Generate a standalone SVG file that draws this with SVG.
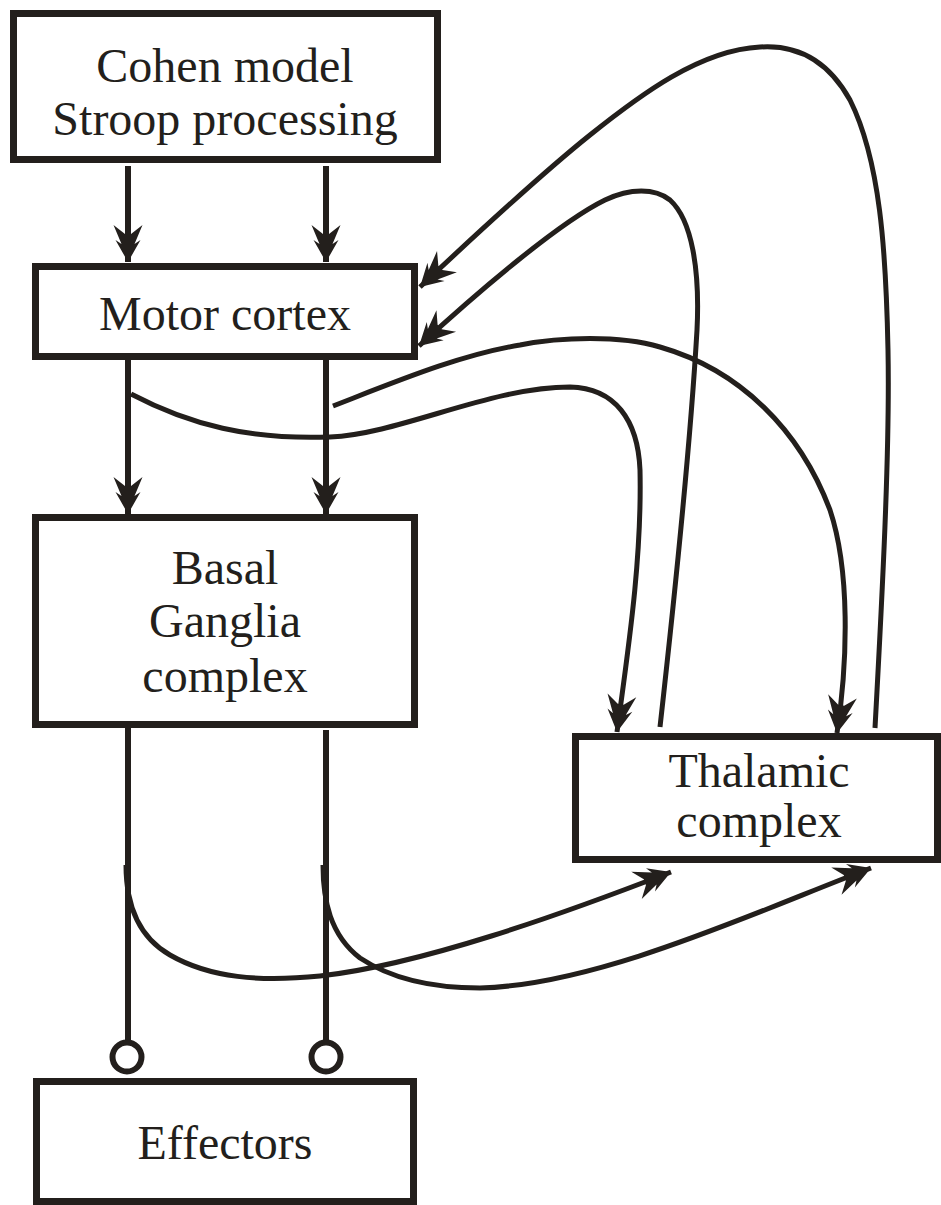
<svg xmlns="http://www.w3.org/2000/svg" width="941" height="1205" viewBox="0 0 941 1205">
<style>
.box{fill:#fff;stroke:#231f1c;stroke-width:7}
.lbl{font-family:"Liberation Serif","Times New Roman",serif;font-size:48px;fill:#231f1c;text-anchor:middle}
.v{fill:none;stroke:#231f1c;stroke-width:6}
.c{fill:none;stroke:#231f1c;stroke-width:5}
.arr{marker-end:url(#ah)}
.dot{fill:#fff;stroke:#231f1c;stroke-width:6}
</style>
<defs>
<marker id="ah" markerUnits="userSpaceOnUse" orient="auto" refX="0" refY="0" markerWidth="40" markerHeight="30" overflow="visible">
<path d="M0,0 L-22,-12.5 L-18,-6.5 L-37,-14.5 L-28,-3 L-28,3 L-37,14.5 L-18,6.5 L-22,12.5 Z" fill="#231f1c"/>
</marker>
</defs>
<g id="connectors">
<path class="v arr" d="M128,166 V262"/>
<path class="v arr" d="M326,166 V262"/>
<path class="v arr" d="M128,360 V514"/>
<path class="v arr" d="M326,360 V514"/>
<path class="v" d="M128,728 V1040"/>
<path class="v" d="M326,730 V1040"/>
<circle class="dot" cx="127" cy="1057" r="14.5"/>
<circle class="dot" cx="326" cy="1057" r="14.5"/>
<path class="c arr" d="M131,394 C190,425 250,440 330,437 C400,434 490,387 570,387 C615,388 638,420 640,470 C642,560 628,650 617,732"/>
<path class="c arr" d="M333,406 C400,380 460,355 520,345 C560,337 620,335 660,347 C740,370 800,430 830,510 C850,570 848,660 837,733"/>
<path class="c arr" d="M660,727 C672,620 690,450 697,330 C700,270 692,220 670,200 C655,188 630,188 605,200 C560,222 480,290 419,346"/>
<path class="c arr" d="M875,728 C882,600 890,450 888,350 C886,250 880,160 850,100 C825,55 790,45 760,47 C700,50 640,95 590,135 C540,175 470,240 420,287"/>
<path class="c arr" d="M126,865 C126,900 135,935 170,955 C210,978 260,982 320,976 C420,965 560,915 671,872"/>
<path class="c arr" d="M323,865 C323,900 330,935 360,958 C390,978 430,988 480,988 C600,985 760,910 871,868"/>
</g>
<g id="cohen">
<rect class="box" x="13.5" y="13.5" width="424" height="146"/>
<text class="lbl" x="225" y="82">Cohen model</text>
<text class="lbl" x="225" y="135">Stroop processing</text>
</g>
<g id="motor">
<rect class="box" x="35.5" y="266.5" width="379" height="90"/>
<text class="lbl" x="225" y="330">Motor cortex</text>
</g>
<g id="basal">
<rect class="box" x="35.5" y="517.5" width="379" height="207"/>
<text class="lbl" x="225" y="584">Basal</text>
<text class="lbl" x="225" y="637">Ganglia</text>
<text class="lbl" x="225" y="692">complex</text>
</g>
<g id="thalamic">
<rect class="box" x="575.5" y="736.5" width="362" height="123"/>
<text class="lbl" x="759" y="787">Thalamic</text>
<text class="lbl" x="759" y="837">complex</text>
</g>
<g id="effectors">
<rect class="box" x="36.5" y="1081.5" width="377" height="120"/>
<text class="lbl" x="225" y="1159">Effectors</text>
</g>
</svg>
